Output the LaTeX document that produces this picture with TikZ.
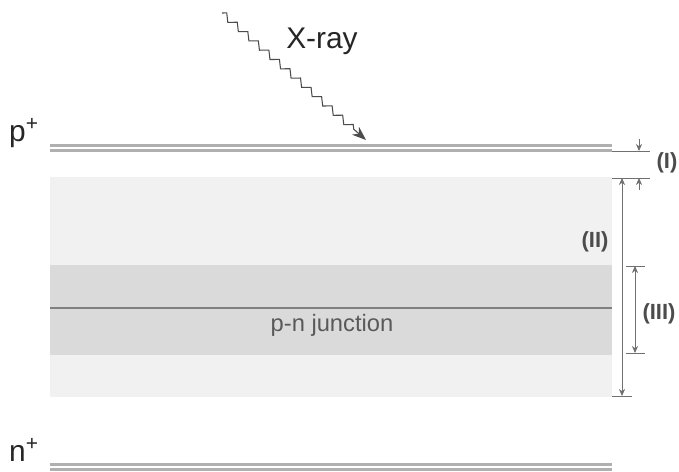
\documentclass[tikz,border=0pt]{standalone}
\usepackage{fontspec}
\setmainfont{Liberation Sans}
\usetikzlibrary{decorations.pathmorphing,arrows.meta,calc}
\definecolor{layerlight}{HTML}{F1F1F1}
\definecolor{layerdark}{HTML}{DADADA}
\definecolor{stripgray}{HTML}{B0B0B0}
\definecolor{dimgray}{HTML}{707070}
\tikzset{
  layer/.style={draw=none, inner sep=0pt, anchor=north west},
  strip/.style={draw=stripgray, line width=1.3pt},
  dimline/.style={draw=dimgray, line width=0.5pt},
  dimarrow/.style={dimline, -{Stealth[length=4pt,width=3.5pt]}},
  dimboth/.style={dimline, {Stealth[length=4pt,width=3.5pt]}-{Stealth[length=4pt,width=3.5pt]}},
  bigtext/.style={font=\fontsize{17}{20}\selectfont, text=black!85, inner sep=0pt},
  dimtext/.style={font=\fontsize{12.5}{15}\selectfont\bfseries, text=black!70, inner sep=0pt},
}
\begin{document}
\begin{tikzpicture}[x=0.02cm, y=-0.02cm]
  \useasboundingbox (0,0) rectangle (679,472);
  \fill[white] (0,0) rectangle (679,472);

  % depletion region and junction band
  \node[layer, fill=layerlight, minimum width=562*0.02cm, minimum height=220*0.02cm] (bulk) at (50,177) {};
  \node[layer, fill=layerdark, minimum width=562*0.02cm, minimum height=90*0.02cm] (band) at (50,265) {};
  \coordinate (jl) at (50,308);
  \coordinate (jr) at (612,308);
  \draw[draw=black!50, line width=0.6pt] (jl) -- (jr);
  \node[font=\fontsize{13.5}{15}\selectfont, text=black!65, inner sep=0pt] (pn) at (332,325) {p-n junction};

  % contact strips
  \coordinate (pl) at (50,148);
  \coordinate (pr) at (612,148);
  \draw[strip] ($(pl)+(0,-2.5)$) -- ($(pr)+(0,-2.5)$);
  \draw[strip] ($(pl)+(0,2.5)$) -- ($(pr)+(0,2.5)$);
  \coordinate (nl) at (50,467);
  \coordinate (nr) at (612,467);
  \draw[strip] ($(nl)+(0,-2.5)$) -- ($(nr)+(0,-2.5)$);
  \draw[strip] ($(nl)+(0,2.5)$) -- ($(nr)+(0,2.5)$);

  \node[bigtext] (plabel) at (24,133) {p\textsuperscript{+}};
  \node[bigtext] (nlabel) at (24,450) {n\textsuperscript{+}};

  % incoming x-ray
  \coordinate (xs) at (222,13);
  \coordinate (xe) at (366,140);
  \draw[black!70, line width=0.6pt, -{Stealth[length=8pt,width=6pt]},
        decorate, decoration={zigzag, segment length=8pt, amplitude=1.8pt, post length=8pt}]
        (xs) -- (xe);
  \node[bigtext] (xray) at (322,41) {X-ray};

  % dimension (I)
  \coordinate (e1a) at (612,151);
  \coordinate (e1b) at (650,151);
  \coordinate (e2a) at (612,178);
  \coordinate (e2b) at (650,178);
  \draw[dimline] (e1a) -- (e1b);
  \draw[dimline] (e2a) -- (e2b);
  \coordinate (a1s) at (639,139);
  \coordinate (a1e) at (639,151);
  \draw[dimarrow] (a1s) -- (a1e);
  \coordinate (a2s) at (639,190);
  \coordinate (a2e) at (639,178);
  \draw[dimarrow] (a2s) -- (a2e);
  \node[dimtext] (labI) at (667,163) {(I)};

  % dimension (II)
  \coordinate (e3a) at (612,396);
  \coordinate (e3b) at (632,396);
  \draw[dimline] (e3a) -- (e3b);
  \coordinate (d2t) at (622,178);
  \coordinate (d2b) at (622,396);
  \draw[dimboth] (d2t) -- (d2b);
  \node[dimtext] (labII) at (595,242) {(II)};

  % dimension (III)
  \coordinate (e4a) at (626,266);
  \coordinate (e4b) at (645,266);
  \coordinate (e5a) at (626,353);
  \coordinate (e5b) at (645,353);
  \draw[dimline] (e4a) -- (e4b);
  \draw[dimline] (e5a) -- (e5b);
  \coordinate (d3t) at (635,266);
  \coordinate (d3b) at (635,353);
  \draw[dimboth] (d3t) -- (d3b);
  \node[dimtext] (labIII) at (659,314) {(III)};
\end{tikzpicture}
\end{document}
